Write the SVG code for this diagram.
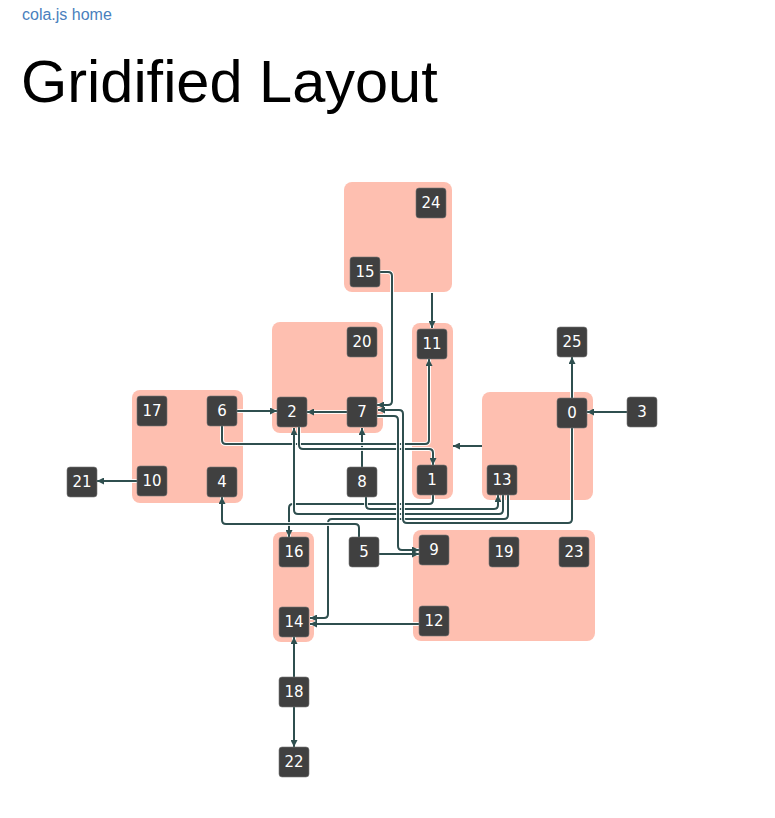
<svg xmlns="http://www.w3.org/2000/svg" width="775" height="818" viewBox="0 0 775 818">
<style>
.grp{fill:#febfb0}
.nd rect{fill:#404040;stroke:#777;stroke-width:0.6}
.nd text{fill:#fff;font-family:"DejaVu Sans",sans-serif;font-size:15px;text-anchor:middle}
.halo{fill:none;stroke:#fff;stroke-width:4;stroke-opacity:0.9}
.ln{fill:none;stroke:#2f4f4f;stroke-width:2}
.arr{marker-end:url(#ah)}
</style>
<defs>
<marker id="ah" viewBox="0 -5 10 10" refX="10" refY="0" markerWidth="7" markerHeight="7" markerUnits="userSpaceOnUse" orient="auto">
<path d="M0,-5L10,0L0,5Z" fill="#2f4f4f"/>
</marker>
</defs>
<rect width="775" height="818" fill="#fff"/>
<text x="22" y="20" font-family="Liberation Sans, Arial, sans-serif" font-size="16" fill="#4a7fbd">cola.js home</text>
<text x="21" y="102" font-family="Liberation Sans, Arial, sans-serif" font-size="59.5" fill="#000">Gridified Layout</text>

<g id="groups">
<rect class="grp" x="344" y="182" width="108" height="110" rx="8"/>
<rect class="grp" x="272" y="322" width="111" height="111" rx="8"/>
<rect class="grp" x="412" y="323" width="41" height="176" rx="8"/>
<rect class="grp" x="132" y="390" width="111" height="113" rx="8"/>
<rect class="grp" x="482" y="392" width="111" height="108" rx="8"/>
<rect class="grp" x="273" y="532" width="41" height="110" rx="8"/>
<rect class="grp" x="413" y="530" width="182" height="111" rx="8"/>
</g>

<g id="connectors">
<path class="halo" d="M432,293 V328"/><path class="ln arr" d="M432,293 V328"/>
<path class="halo" d="M380,272 H388 Q392,272 392,276 V401 Q392,405 388,405 H377"/><path class="ln arr" d="M380,272 H388 Q392,272 392,276 V401 Q392,405 388,405 H377"/>
<path class="halo" d="M237,411 H277"/><path class="ln arr" d="M237,411 H277"/>
<path class="halo" d="M347,412 H307"/><path class="ln arr" d="M347,412 H307"/>
<path class="halo" d="M627,412 H587"/><path class="ln arr" d="M627,412 H587"/>
<path class="halo" d="M572,398 V357"/><path class="ln arr" d="M572,398 V357"/>
<path class="halo" d="M137,481 H97"/><path class="ln arr" d="M137,481 H97"/>
<path class="halo" d="M362,467 V428"/><path class="ln arr" d="M362,467 V428"/>
<path class="halo" d="M482,446 H453"/><path class="ln arr" d="M482,446 H453"/>
<path class="halo" d="M222,426 V440 Q222,444 226,444 H425 Q429,444 429,440 V359"/><path class="ln arr" d="M222,426 V440 Q222,444 226,444 H425 Q429,444 429,440 V359"/>
<path class="halo" d="M299,427 V445 Q299,449 303,449 H429 Q433,449 433,453 V465"/><path class="ln arr" d="M299,427 V445 Q299,449 303,449 H429 Q433,449 433,453 V465"/>
<path class="halo" d="M433,495 V500 Q433,504 429,504 H293 Q289,504 289,508 V537"/><path class="ln arr" d="M433,495 V500 Q433,504 429,504 H293 Q289,504 289,508 V537"/>
<path class="halo" d="M366,497 V505 Q366,509 370,509 H494 Q498,509 498,505 V495"/><path class="ln arr" d="M366,497 V505 Q366,509 370,509 H494 Q498,509 498,505 V495"/>
<path class="halo" d="M503,495 V510 Q503,514 499,514 H298 Q294,514 294,510 V428"/><path class="ln arr" d="M503,495 V510 Q503,514 499,514 H298 Q294,514 294,510 V428"/>
<path class="halo" d="M508,495 V515 Q508,519 504,519 H332 Q328,519 328,523 V614 Q328,618 324,618 H310"/><path class="ln arr" d="M508,495 V515 Q508,519 504,519 H332 Q328,519 328,523 V614 Q328,618 324,618 H310"/>
<path class="halo" d="M572,428 V519 Q572,523 568,523 H407 Q403,523 403,519 V414 Q403,410 399,410 H378"/><path class="ln arr" d="M572,428 V519 Q572,523 568,523 H407 Q403,523 403,519 V414 Q403,410 399,410 H378"/>
<path class="halo" d="M377,416 H394 Q398,416 398,420 V546 Q398,550 402,550 H419"/><path class="ln arr" d="M377,416 H394 Q398,416 398,420 V546 Q398,550 402,550 H419"/>
<path class="halo" d="M379,554 H419"/><path class="ln arr" d="M379,554 H419"/>
<path class="halo" d="M359,537 V528 Q359,524 355,524 H226 Q222,524 222,520 V497"/><path class="ln arr" d="M359,537 V528 Q359,524 355,524 H226 Q222,524 222,520 V497"/>
<path class="halo" d="M419,624 H310"/><path class="ln arr" d="M419,624 H310"/>
<path class="halo" d="M294,677 V637"/><path class="ln arr" d="M294,677 V637"/>
<path class="halo" d="M294,707 V747"/><path class="ln arr" d="M294,707 V747"/>
</g>

<g id="n24" class="nd"><rect x="416" y="188" width="30" height="30" rx="3"/><text x="431" y="208">24</text></g>
<g id="n15" class="nd"><rect x="350" y="257" width="30" height="30" rx="3"/><text x="365" y="277">15</text></g>
<g id="n20" class="nd"><rect x="347" y="327" width="30" height="30" rx="3"/><text x="362" y="347">20</text></g>
<g id="n11" class="nd"><rect x="417" y="329" width="30" height="30" rx="3"/><text x="432" y="349">11</text></g>
<g id="n25" class="nd"><rect x="557" y="327" width="30" height="30" rx="3"/><text x="572" y="347">25</text></g>
<g id="n17" class="nd"><rect x="137" y="396" width="30" height="30" rx="3"/><text x="152" y="416">17</text></g>
<g id="n6" class="nd"><rect x="207" y="396" width="30" height="30" rx="3"/><text x="222" y="416">6</text></g>
<g id="n2" class="nd"><rect x="277" y="397" width="30" height="30" rx="3"/><text x="292" y="417">2</text></g>
<g id="n7" class="nd"><rect x="347" y="397" width="30" height="30" rx="3"/><text x="362" y="417">7</text></g>
<g id="n0" class="nd"><rect x="557" y="398" width="30" height="30" rx="3"/><text x="572" y="418">0</text></g>
<g id="n3" class="nd"><rect x="627" y="397" width="30" height="30" rx="3"/><text x="642" y="417">3</text></g>
<g id="n21" class="nd"><rect x="67" y="467" width="30" height="30" rx="3"/><text x="82" y="487">21</text></g>
<g id="n10" class="nd"><rect x="137" y="466" width="30" height="30" rx="3"/><text x="152" y="486">10</text></g>
<g id="n4" class="nd"><rect x="207" y="467" width="30" height="30" rx="3"/><text x="222" y="487">4</text></g>
<g id="n8" class="nd"><rect x="347" y="467" width="30" height="30" rx="3"/><text x="362" y="487">8</text></g>
<g id="n1" class="nd"><rect x="417" y="465" width="30" height="30" rx="3"/><text x="432" y="485">1</text></g>
<g id="n13" class="nd"><rect x="487" y="465" width="30" height="30" rx="3"/><text x="502" y="485">13</text></g>
<g id="n16" class="nd"><rect x="279" y="537" width="30" height="30" rx="3"/><text x="294" y="557">16</text></g>
<g id="n5" class="nd"><rect x="349" y="537" width="30" height="30" rx="3"/><text x="364" y="557">5</text></g>
<g id="n9" class="nd"><rect x="419" y="535" width="30" height="30" rx="3"/><text x="434" y="555">9</text></g>
<g id="n19" class="nd"><rect x="489" y="537" width="30" height="30" rx="3"/><text x="504" y="557">19</text></g>
<g id="n23" class="nd"><rect x="559" y="537" width="30" height="30" rx="3"/><text x="574" y="557">23</text></g>
<g id="n14" class="nd"><rect x="279" y="607" width="30" height="30" rx="3"/><text x="294" y="627">14</text></g>
<g id="n12" class="nd"><rect x="419" y="606" width="30" height="30" rx="3"/><text x="434" y="626">12</text></g>
<g id="n18" class="nd"><rect x="279" y="677" width="30" height="30" rx="3"/><text x="294" y="697">18</text></g>
<g id="n22" class="nd"><rect x="279" y="747" width="30" height="30" rx="3"/><text x="294" y="767">22</text></g>
</svg>
